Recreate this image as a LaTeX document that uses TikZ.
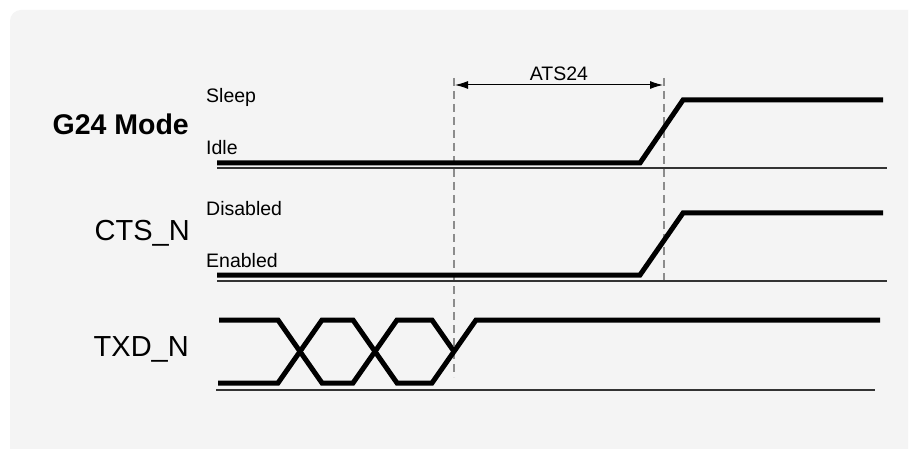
\documentclass[tikz,border=0pt]{standalone}
\usepackage{fontspec}
\setmainfont{Liberation Sans}
\usetikzlibrary{arrows.meta}
\definecolor{panel}{RGB}{244,244,244}
\definecolor{guidegray}{RGB}{140,140,140}
\begin{document}
\begin{tikzpicture}[x=1pt,y=-1pt,
  sig/.style={line width=5pt, line join=miter, line cap=butt},
  baseln/.style={line width=1.5pt, draw=black!80},
  guide/.style={draw=guidegray, line width=1.2pt, dash pattern=on 8pt off 5pt},
  biglabel/.style={anchor=east, inner sep=0pt, font=\fontsize{29}{32}\selectfont},
  smalllabel/.style={anchor=base west, inner sep=0pt, font=\fontsize{19.5}{22}\selectfont},
  dimarrow/.style={line width=1pt, {Latex[length=13pt,width=8pt]}-{Latex[length=13pt,width=8pt]}}
]
\useasboundingbox (0,0) rectangle (913,449);
\fill[white] (0,0) rectangle (913,449);
\fill[panel] (10,449) [rounded corners=11pt] -- (10,10) [sharp corners] -- (908,10) -- (908,449) -- cycle;

% labels
\node[biglabel, font=\fontsize{28.5}{32}\selectfont\bfseries] (g24) at (189,124) {G24 Mode};
\node[biglabel] (cts) at (190,233) {CTS\_N};
\node[biglabel] (txd) at (189,349) {TXD\_N};
\node[smalllabel] (sleep) at (206,103) {Sleep};
\node[smalllabel] (idle) at (206,155) {Idle};
\node[smalllabel] (dis) at (206,215) {Disabled};
\node[smalllabel] (en) at (206,268) {Enabled};

% guides
\coordinate (d1t) at (454,78); \coordinate (d1b) at (454,377);
\coordinate (d2t) at (664,78); \coordinate (d2b) at (664,281);
\draw[guide] (d1t) -- (d1b);
\draw[guide] (d2t) -- (d2b);
\coordinate (a1) at (455,85); \coordinate (a2) at (663,85);
\draw[dimarrow] (a1) -- (a2);
\node[anchor=base, inner sep=0pt, font=\fontsize{19.5}{22}\selectfont] (ats) at (559,81) {ATS24};

% G24 Mode
\draw[baseln] (217,168) -- (887,168);
\draw[sig] (217,163) -- (640,163) -- (683,100) -- (883,100);
% CTS_N
\draw[baseln] (217,281) -- (887,281);
\draw[sig] (217,275) -- (640,275) -- (683,213) -- (883,213);
% TXD_N
\draw[baseln] (216,390) -- (875,390);
\draw[sig] (219,320) -- (278,320) -- (322,383) -- (353,383) -- (397,320) -- (432,320) -- (454,351.5);
\draw[sig] (218,383) -- (278,383) -- (322,320) -- (353,320) -- (397,383) -- (432,383) -- (476,320) -- (880,320);
\end{tikzpicture}
\end{document}
